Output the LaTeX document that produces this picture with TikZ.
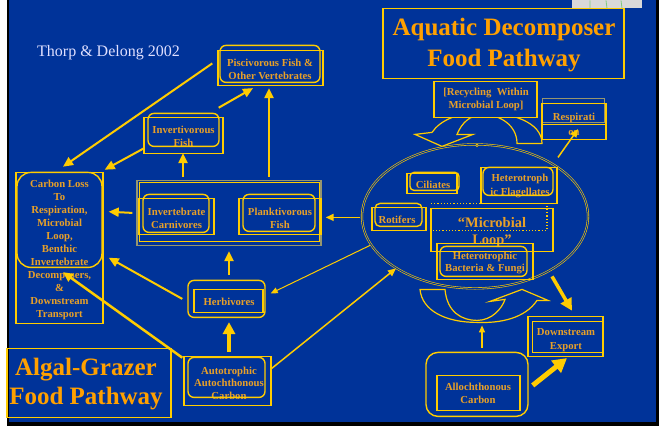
\documentclass[tikz,border=0pt]{standalone}
\usepackage{fontspec}
\setmainfont{Liberation Serif}
\usetikzlibrary{arrows.meta,shapes.geometric,calc}
\definecolor{bg}{RGB}{0,51,153}
\definecolor{yl}{RGB}{255,204,0}
\definecolor{tx}{RGB}{232,160,40}
\definecolor{ttl}{RGB}{255,160,0}
\definecolor{olv}{RGB}{150,150,110}
\begin{document}
\begin{tikzpicture}[x=1pt,y=-1pt,
  fr/.style={draw=yl,line width=1.4pt,inner sep=0pt},
  rfr/.style={fr,rounded corners=6pt},
  lb/.style={text=tx,font=\fontsize{10.7}{13}\selectfont\bfseries,align=center,inner sep=0pt},
  ttlstyle/.style={text=ttl,font=\fontsize{25}{30}\selectfont\bfseries,align=center,inner sep=0pt},
  arr/.style={draw=yl,line width=2pt,-{Triangle[length=10pt,width=9pt]}},
  thinarr/.style={draw=yl,line width=1pt,-{Triangle[length=7pt,width=6pt]}},
  midarr/.style={draw=yl,line width=1.5pt,-{Triangle[length=8pt,width=7pt]}},
  fatarr/.style={draw=yl,line width=4pt,-{Triangle[length=12pt,width=12pt]}},
  uarrow/.style={draw=yl,line width=1.2pt,line join=miter}]
% background
\fill[white] (0,0) rectangle (659,426);
\fill[black] (7,0) rectangle (659,426);
\fill[bg] (9,0) rectangle (656,422);
\fill[gray!30] (572,0) rectangle (642,8);
\draw[green!40!gray!70,line width=0.8pt] (590,0)--(590,8) (606,0)--(607,8) (621,0)--(622,8);
\useasboundingbox (0,0) rectangle (659,426);

% citation
\node[text=white!88!blue,font=\fontsize{16}{18}\selectfont,inner sep=0pt] (cite) at (108.5,52) {Thorp \& Delong 2002};

% titles
\node[fr,minimum width=241pt,minimum height=70pt] (aqbox) at (503.5,43) {};
\node[ttlstyle,font=\fontsize{25}{31}\selectfont\bfseries] (aqT) at (504,45) {Aquatic Decomposer\\Food Pathway};
\node[fr,minimum width=164pt,minimum height=69pt] (agbox) at (89,382.5) {};
\node[ttlstyle,font=\fontsize{25}{29}\selectfont\bfseries] (agT) at (86,384) {Algal-Grazer\\Food Pathway};

% U-turn arrows
\draw[uarrow] (517,143) -- (542,143) .. controls (542,122) and (512,112) .. (482,112)
  .. controls (458,112) and (440,120) .. (432,132) -- (415,134) -- (442,146) -- (473,134) -- (457,134)
  .. controls (462,122) and (470,115) .. (482,114) .. controls (500,114) and (517,125) .. (517,143) -- cycle;
\draw[uarrow] (420,289) -- (445,289) .. controls (447,312) and (462,320) .. (477,320)
  .. controls (492,320) and (502,308) .. (505,299) -- (490,301) -- (522,289) -- (548,300) -- (537,300)
  .. controls (525,318) and (500,323) .. (477,322) .. controls (445,322) and (422,310) .. (420,289) -- cycle;
\coordinate (uB) at (482,325);

% Piscivorous
\node[fr,minimum width=105pt,minimum height=35pt] (pisc) at (270.5,67.5) {};
\node[rfr,minimum width=100pt,minimum height=37pt] (piscR) at (270,63.5) {};
\node[lb] (piscT) at (270,68.5) {Piscivorous Fish \&\\Other Vertebrates};

% Invertivorous
\node[lb] (invT) at (183.5,136) {Invertivorous\\Fish};
\node[fr,minimum width=79pt,minimum height=36pt] (inv) at (183.5,135) {};
\node[rfr,minimum width=71pt,minimum height=33pt] (invR) at (183.5,129.5) {};

% Carbon loss
\node[lb] (clossT) at (59.5,249.5) {Carbon Loss\\To\\Respiration,\\Microbial\\Loop,\\Benthic\\Invertebrate\\Decomposers,\\\&\\Downstream\\Transport};
\node[fr,minimum width=87pt,minimum height=151pt] (closs) at (59.5,247.5) {};
\node[fr,rounded corners=14pt,minimum width=85pt,minimum height=95pt] (clossR) at (59.5,219.5) {};

% big box
\node[draw=olv,line width=1.4pt,inner sep=0pt,minimum width=184pt,minimum height=65pt] (bigbox) at (229,212.5) {};
\node[draw=yl,line width=0.8pt,inner sep=0pt,minimum width=180pt,minimum height=59pt] (bigboxI) at (229,211.5) {};

% Invertebrate carnivores
\node[fr,minimum width=75pt,minimum height=36pt] (icarn) at (176.5,216) {};
\node[rfr,minimum width=66pt,minimum height=38pt] (icarnR) at (176,213) {};
\node[lb] (icarnT) at (176.5,217.5) {Invertebrate\\Carnivores};

% Planktivorous
\node[fr,minimum width=82pt,minimum height=36pt] (plank) at (280,216) {};
\node[rfr,minimum width=72pt,minimum height=37pt] (plankR) at (279,212.5) {};
\node[lb] (plankT) at (280,217.5) {Planktivorous\\Fish};

% Herbivores
\node[rfr,minimum width=77pt,minimum height=37pt] (herb) at (226.5,298.5) {};
\node[fr,minimum width=69pt,minimum height=23pt] (herbI) at (228.5,300.5) {};
\node[lb] (herbT) at (229,301.5) {Herbivores};

% Autotrophic
\node[lb,font=\fontsize{10.7}{12.5}\selectfont\bfseries] (autoT) at (229,382.5) {Autotrophic\\Autochthonous\\Carbon};
\node[fr,minimum width=87pt,minimum height=49pt] (auto) at (227.5,380.5) {};
\node[rfr,minimum width=77pt,minimum height=40pt] (autoR) at (226.5,377) {};

% Recycling
\node[fr,fill=bg,minimum width=103pt,minimum height=36pt] (recyc) at (485.5,99) {};
\node[lb] (recycT) at (486,99.5) {[Recycling\ \ Within\\Microbial Loop]};

% Respiration
\draw[olv,line width=0.8pt] (542,98) rectangle (604,122);
\node[fr,minimum width=64pt,minimum height=36pt] (resp) at (574,121) {};
\draw[yl,line width=1.4pt] (resp.west |- 0,124) -- (resp.east |- 0,124);
\node[lb,font=\fontsize{10.7}{15}\selectfont\bfseries] (respT) at (574,124) {Respirati\\on};

% Ellipse
\node[ellipse,draw=yl,double=bg,double distance=1pt,line width=0.6pt,minimum width=226pt,minimum height=144pt,inner sep=0pt] (loop) at (475,216) {};
\draw[yl,line width=0.6pt,fill=bg] (477,145) circle (1.3);

% Ciliates
\node[fr,minimum width=50pt,minimum height=20pt] (cil) at (432,183) {};
\node[rfr,rounded corners=4pt,minimum width=49pt,minimum height=18pt] (cilR) at (434.5,181) {};
\node[lb] (cilT) at (433,184) {Ciliates};

% Flagellates
\node[lb,font=\fontsize{10.7}{13.5}\selectfont\bfseries] (flagT) at (520,185.5) {Heterotroph\\ic Flagellates};
\node[fr,minimum width=76pt,minimum height=36pt] (flag) at (519,185) {};
\node[rfr,minimum width=70pt,minimum height=28pt] (flagR) at (518,181) {};

% Rotifers
\node[fr,minimum width=54pt,minimum height=23pt] (rot) at (399,218.5) {};
\node[rfr,rounded corners=5pt,minimum width=47pt,minimum height=23pt] (rotR) at (398.5,214.5) {};
\node[lb] (rotT) at (397,219.5) {Rotifers};

% Microbial loop
\node[lb,font=\fontsize{14.5}{17}\selectfont\bfseries] (microT) at (492,232) {``Microbial\\Loop''};
\node[fr,minimum width=122pt,minimum height=43pt] (micro) at (492,229.5) {};
\draw[yl,line width=1.2pt,dotted] (431,203) -- (547,203) -- (547,230) -- (431,230);

% Bacteria
\node[fr,minimum width=96pt,minimum height=36pt] (bact) at (485,261) {};
\node[rfr,minimum width=87pt,minimum height=30pt] (bactR) at (483.5,261) {};
\node[lb,font=\fontsize{10.7}{12}\selectfont\bfseries] (bactT) at (485,262.5) {Heterotrophic\\Bacteria \& Fungi};

% Downstream export
\node[fr,minimum width=75pt,minimum height=40pt] (down) at (565.5,336) {};
\node[draw=yl,line width=0.8pt,inner sep=0pt,minimum width=70pt,minimum height=31pt] (downI) at (567,336.5) {};
\node[lb,font=\fontsize{10.7}{14}\selectfont\bfseries] (downT) at (566,339.5) {Downstream\\Export};

% Allochthonous
\node[fr,rounded corners=12pt,minimum width=102pt,minimum height=64pt] (allo) at (477,384) {};
\node[fr,minimum width=83pt,minimum height=35pt] (alloI) at (478.5,392.5) {};
\node[lb] (alloT) at (478,393) {Allochthonous\\Carbon};

% connectors
\draw[arr] ($(pisc.west)+(-5,-4.5)$) -- ($(closs.north)+(3.5,-5)$);
\draw[arr] ($(inv.south west)+(1,-6)$) -- ($(closs.north east)+(1,-2)$);
\draw[arr] ($(inv.north east)+(-5,-9)$) -- ($(pisc.south)+(-17.5,2)$);
\draw[arr] ($(bigbox.north)+(-46,-3)$) -- ($(inv.south)+(-0.5,-1)$);
\draw[arr] ($(bigbox.north)+(40,-3)$) -- ($(pisc.south)+(-1.5,2)$);
\draw[arr] ($(bigbox.west)+(-4,0)$) -- ($(closs.north east)+(5,40)$);
\draw[midarr] ($(loop.west)+(-2,1)$) -- ($(bigbox.east)+(4,4.5)$);
\draw[arr] ($(herb.north)+(2.5,-5)$) -- ($(bigbox.south)+(0,5)$);
\draw[arr] ($(herb.west)+(-5,0)$) -- ($(closs.north east)+(5,86)$);
\draw[fatarr] ($(auto.north)+(1.5,-4)$) -- ($(herb.south)+(2.5,4)$);
\draw[arr,line width=2.5pt] ($(auto.north west)+(-1,2)$) -- ($(closs.south)+(3.5,-52)$);
\draw[thinarr] ($(loop.center)+(-105,29)$) -- ($(herb.east)+(5,-5.5)$);
\draw[midarr] ($(auto.east)+(0,-12.5)$) -- ($(loop.center)+(-79,52)$);
\draw[midarr] ($(loop.center)+(83,-59)$) -- ($(resp.south)+(4,-11)$);
\draw[fatarr,line width=3.5pt] ($(loop.center)+(77,60)$) -- ($(down.north)+(6.5,-5)$);
\draw[fatarr,line width=5pt,-{Triangle[length=14pt,width=15pt]}] ($(allo.east)+(4,1)$) -- ($(down.south)+(1.5,1)$);
\draw[thinarr,line width=1.2pt] ($(allo.north)+(5,-4)$) -- (uB);
\end{tikzpicture}
\end{document}
